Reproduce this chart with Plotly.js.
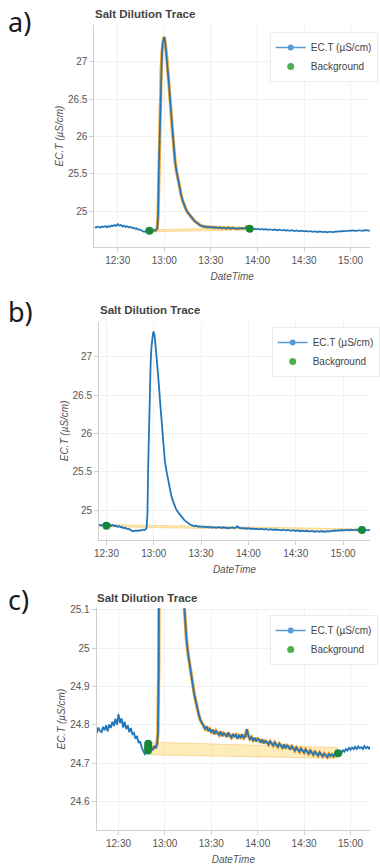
<!DOCTYPE html>
<html>
<head>
<meta charset="utf-8">
<script src="https://cdn.plot.ly/plotly-3.0.1.min.js"></script>
<style>html,body{margin:0;padding:0;background:#fff}#chart{width:380px;height:865px}</style>
</head>
<body>
<div id="chart"></div>
<script>
// ---- data ----
const day = '2023-07-12 ';
const times = ['12:15','12:16','12:17','12:18','12:19','12:20','12:21','12:22','12:23','12:24','12:25','12:26','12:27','12:28','12:29','12:30','12:31','12:32','12:33','12:34','12:35','12:36','12:37','12:38','12:39','12:40','12:41','12:42','12:43','12:44','12:45','12:46','12:47','12:48','12:49','12:50','12:51','12:52','12:53','12:54','12:55','12:55:30','12:56','12:56:30','12:57','12:57:30','12:58','12:58:30','12:59','12:59:30','13:00','13:00:30','13:01','13:01:30','13:02','13:03','13:04','13:05','13:06','13:07','13:08','13:09','13:10','13:11','13:12','13:13','13:14','13:15','13:16','13:17','13:18','13:19','13:20','13:21','13:22','13:23','13:24','13:25','13:26','13:27','13:28','13:29','13:30','13:31','13:32','13:33','13:34','13:35','13:36','13:37','13:38','13:39','13:40','13:41','13:42','13:43','13:44','13:45','13:46','13:47','13:48','13:49','13:50','13:51','13:52','13:53','13:54','13:55','13:56','13:57','13:58','13:59','14:00','14:01','14:02','14:03','14:04','14:05','14:06','14:07','14:08','14:09','14:10','14:11','14:12','14:13','14:14','14:15','14:16','14:17','14:18','14:19','14:20','14:21','14:22','14:23','14:24','14:25','14:26','14:27','14:28','14:29','14:30','14:31','14:32','14:33','14:34','14:35','14:36','14:37','14:38','14:39','14:40','14:41','14:42','14:43','14:44','14:45','14:46','14:47','14:48','14:49','14:50','14:51','14:52','14:53','14:54','14:55','14:56','14:57','14:58','14:59','15:00','15:01','15:02','15:03','15:04','15:05','15:06','15:07','15:08','15:09','15:10','15:11','15:12','15:13','15:14','15:15','15:16','15:17','15:18'];
const ecValues = [24.788,24.779,24.793,24.784,24.781,24.795,24.786,24.799,24.783,24.801,24.792,24.808,24.797,24.816,24.800,24.828,24.805,24.817,24.793,24.808,24.789,24.799,24.781,24.792,24.776,24.779,24.764,24.771,24.753,24.757,24.741,24.733,24.724,24.729,24.735,24.727,24.739,24.734,24.745,24.739,24.752,
  24.780,24.95,25.60,26.10,26.55,26.90,27.12,27.25,27.31,27.33,27.28,27.18,27.08,26.97,26.70,26.42,26.12,25.84,25.65,25.52,25.40,25.29,25.20,25.13,25.07,25.02,24.985,24.955,24.930,24.905,24.880,24.860,24.840,24.825,24.812,24.803,
  24.798,24.790,24.796,24.784,24.789,24.782,24.787,24.776,24.785,24.779,24.774,24.783,24.771,24.778,24.775,24.769,24.780,24.772,24.767,24.776,24.770,24.774,24.764,24.772,24.768,24.775,24.766,24.770,24.789,24.771,24.763,24.768,24.760,24.766,24.757,24.764,24.761,24.754,24.762,24.752,24.758,24.755,24.749,24.757,24.750,24.746,24.754,24.748,24.743,24.751,24.745,24.741,24.749,24.739,24.746,24.743,24.736,24.744,24.739,24.733,24.741,24.736,24.730,24.738,24.733,24.728,24.736,24.729,24.725,24.733,24.727,24.722,24.730,24.724,24.720,24.728,24.722,24.718,24.725,24.721,24.716,24.724,24.719,24.723,24.718,24.725,24.721,24.727,24.731,24.726,24.734,24.730,24.737,24.733,24.740,24.735,24.741,24.737,24.743,24.736,24.744,24.739,24.742,24.737,24.745,24.739,24.743,24.738,24.744,24.740,24.742,24.737,24.743,24.740];

// background picks per panel
const bgTimesA = ['12:50:24','13:55:00'];
const bgValsA  = [24.737, 24.763];
const bgTimesB = ['12:30:00','15:12:00'];
const bgValsB  = [24.797, 24.740];
const bgTimesC = ['12:49:06','12:49:06','12:49:12','14:52:00'];
const bgValsC  = [24.733, 24.742, 24.751, 24.726];

// baseline bands (upper / lower edges) per panel
const bandTimesA = ['12:50:24','13:55:00'];
const bandUpperA = [24.752, 24.777];
const bandLowerA = [24.724, 24.749];
const bandTimesB = ['12:30:00','15:12:00'];
const bandUpperB = [24.811, 24.754];
const bandLowerB = [24.783, 24.726];
const bandTimesC = ['12:50:00','14:52:00'];
const bandUpperC = [24.755, 24.741];
const bandLowerC = [24.722, 24.713];

const yTicksAB = [25, 25.5, 26, 26.5, 27];
const yTicksC = [24.6, 24.7, 24.8, 24.9, 25, 25.1];

// ---- helpers ----
const toMin = t => { const p = t.split(':').map(Number); return p[0]*60 + p[1] + (p[2]||0)/60; };
const full = arr => arr.map(t => day + (t.length === 5 ? t + ':00' : t));
const X = full(times);

function segment(t0, t1) {
  const a = toMin(t0), b = toMin(t1);
  const xs = [], ys = [];
  times.forEach((t, i) => { const m = toMin(t); if (m >= a && m <= b) { xs.push(X[i]); ys.push(ecValues[i]); } });
  return {xs, ys};
}

const BLUE = '#2276b9', ORANGE = '#f3a93a', GREEN = '#17873a';
const traces = [];
function panel(n, bandT, bandU, bandL, bgT, bgV, overlay, lw) {
  const xa = n === 1 ? 'x' : 'x' + n, ya = n === 1 ? 'y' : 'y' + n;
  const lg = n === 1 ? 'legend' : 'legend' + n;
  traces.push({x: full(bandT), y: bandL, xaxis: xa, yaxis: ya, mode: 'lines', line: {color: 'rgba(243,176,60,0.55)', width: 0.8}, showlegend: false, hoverinfo: 'skip'});
  traces.push({x: full(bandT), y: bandU, xaxis: xa, yaxis: ya, mode: 'lines', fill: 'tonexty', fillcolor: 'rgba(252,222,130,0.55)', line: {color: 'rgba(243,176,60,0.55)', width: 0.8}, showlegend: false, hoverinfo: 'skip'});
  if (overlay) {
    const s = segment(bgT[0], bgT[bgT.length - 1]);
    traces.push({x: s.xs, y: s.ys, xaxis: xa, yaxis: ya, mode: 'lines', line: {color: ORANGE, width: lw + 1.6}, showlegend: false});
  }
  traces.push({x: X, y: ecValues, xaxis: xa, yaxis: ya, mode: 'lines', line: {color: BLUE, width: lw}, showlegend: false});
  traces.push({x: full(bgT), y: bgV, xaxis: xa, yaxis: ya, mode: 'markers', marker: {color: GREEN, size: 8}, showlegend: false});
  // legend entries
  traces.push({x: [null], y: [null], xaxis: xa, yaxis: ya, mode: 'lines+markers', name: 'EC.T (µS/cm)', line: {color: '#5b9bd5', width: 1.5}, marker: {color: '#5b9bd5', size: 6}, legend: lg});
  traces.push({x: [null], y: [null], xaxis: xa, yaxis: ya, mode: 'markers', name: 'Background', marker: {color: '#4caf50', size: 7}, legend: lg});
}
panel(1, bandTimesA, bandUpperA, bandLowerA, bgTimesA, bgValsA, true, 1.7);
panel(2, bandTimesB, bandUpperB, bandLowerB, bgTimesB, bgValsB, false, 1.8);
panel(3, bandTimesC, bandUpperC, bandLowerC, bgTimesC, bgValsC, true, 1.8);

const FONT = 'Liberation Sans, Arial, sans-serif';
const tickFont = {family: FONT, size: 10, color: '#555'};
function xAxis(dom, r0, r1, anchor) {
  return {domain: dom, anchor: anchor, type: 'date', range: [day + r0, day + r1], tickformat: '%H:%M', dtick: 1800000, tick0: day + '12:00:00',
    showgrid: true, gridcolor: '#f1f1f1', showline: true, linecolor: '#d0d0d0', ticks: 'outside', ticklen: 4, tickcolor: '#d0d0d0',
    tickfont: tickFont, zeroline: false, fixedrange: true,
    title: {text: '<i>DateTime</i>', font: {family: FONT, size: 10, color: '#555'}, standoff: 7}};
}
function yAxis(dom, r, ticks, anchor) {
  return {domain: dom, anchor: anchor, range: r, tickvals: ticks, showgrid: true, gridcolor: '#f1f1f1', showline: true, linecolor: '#d0d0d0',
    ticks: 'outside', ticklen: 4, tickcolor: '#d0d0d0', tickfont: tickFont, zeroline: false, fixedrange: true,
    title: {text: '<i>EC.T (µS/cm)</i>', font: {family: FONT, size: 10, color: '#555'}, standoff: 2}};
}
function legend(x, y) {
  return {x: x, y: y, xref: 'paper', yref: 'paper', xanchor: 'left', yanchor: 'top', bgcolor: '#fff', bordercolor: '#ececec', borderwidth: 1,
    font: {family: FONT, size: 10, color: '#444'}, tracegroupgap: 0, itemwidth: 30, traceorder: 'normal'};
}
function title(txt, x, y) {
  return {text: txt, xref: 'paper', yref: 'paper', x: x, y: y, xanchor: 'left', yanchor: 'middle', showarrow: false,
    font: {family: FONT, size: 11.5, color: '#444', weight: 'bold'}};
}
function tag(txt, x, y) {
  return {text: txt, xref: 'paper', yref: 'paper', x: x, y: y, xanchor: 'left', yanchor: 'middle', showarrow: false,
    font: {family: 'Noto Sans, Open Sans, sans-serif', size: 27, color: '#1a1a1a'}};
}
const H = 865, W = 380;
const layout = {
  width: W, height: H, margin: {l: 0, r: 0, t: 0, b: 0}, paper_bgcolor: '#fff', plot_bgcolor: '#fff', showlegend: true,
  xaxis: xAxis([97/W, 1], '12:15:00', '15:12:30', 'y'),
  yaxis: yAxis([(H-247)/H, (H-25)/H], [24.52, 27.49], yTicksAB, 'x'),
  xaxis2: xAxis([101.7/W, 1], '12:25:18', '15:17:06', 'y2'),
  yaxis2: yAxis([(H-540)/H, (H-321.7)/H], [24.61, 27.46], yTicksAB, 'x2'),
  xaxis3: xAxis([99.3/W, 1], '12:15:54', '15:12:36', 'y3'),
  yaxis3: yAxis([(H-830)/H, (H-608.3)/H], [24.526, 25.104], yTicksC, 'x3'),
  legend: legend(277/W, (H-32)/H),
  legend2: legend(279/W, (H-327)/H),
  legend3: legend(277/W, (H-615)/H),
  annotations: [
    title('Salt Dilution Trace', 96/W, (H-14)/H),
    title('Salt Dilution Trace', 101/W, (H-310)/H),
    title('Salt Dilution Trace', 98/W, (H-598)/H),
    tag('a)', 6/W, (H-21)/H),
    tag('b)', 6/W, (H-311)/H),
    tag('c)', 6/W, (H-599)/H)
  ]
};
Plotly.newPlot('chart', traces, layout, {staticPlot: true, displayModeBar: false});
</script>
</body>
</html>
